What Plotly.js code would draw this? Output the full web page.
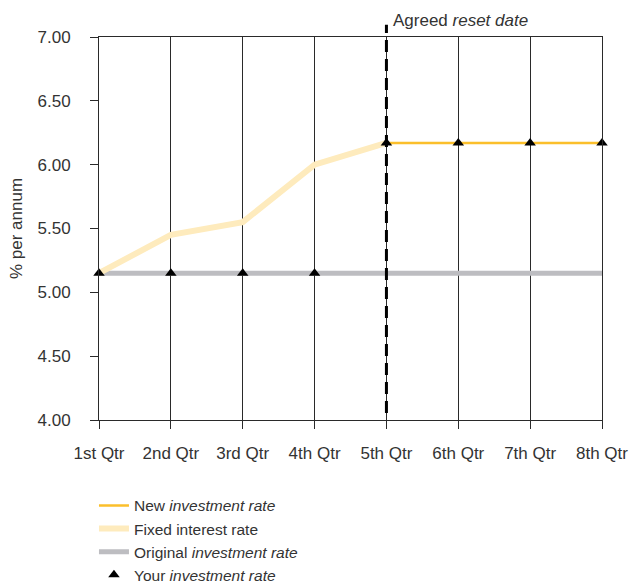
<!DOCTYPE html>
<html>
<head>
<meta charset="utf-8">
<script src="https://cdn.plot.ly/plotly-3.0.1.min.js"></script>
<style>html,body{margin:0;padding:0;background:#fff;}#chart{width:631px;height:584px;}</style>
</head>
<body>
<div id="chart"></div>
<script>
var quarters = ['1st Qtr', '2nd Qtr', '3rd Qtr', '4th Qtr', '5th Qtr', '6th Qtr', '7th Qtr', '8th Qtr'];
var fixedQuarters = ['1st Qtr', '2nd Qtr', '3rd Qtr', '4th Qtr', '5th Qtr'];
var fixedRate = [5.15, 5.45, 5.55, 6.00, 6.17];
var originalRate = [5.15, 5.15, 5.15, 5.15, 5.15, 5.15, 5.15, 5.15];
var newQuarters = ['5th Qtr', '6th Qtr', '7th Qtr', '8th Qtr'];
var newRate = [6.17, 6.17, 6.17, 6.17];
var yourRate = [5.15, 5.15, 5.15, 5.15, 6.17, 6.17, 6.17, 6.17];
var resetQuarter = '5th Qtr';
var yTicks = [4.0, 4.5, 5.0, 5.5, 6.0, 6.5, 7.0];

var FONT = 'Liberation Sans, Arial, sans-serif';
var TXT = '#333333';
var LINE = '#2a2a2a';

var traces = [
  {x: quarters, y: originalRate, type: 'scatter', mode: 'lines', name: 'Original <i>investment rate</i>',
   line: {color: '#bdbdc1', width: 5}, legendrank: 3},
  {x: fixedQuarters, y: fixedRate, type: 'scatter', mode: 'lines', name: 'Fixed interest rate',
   line: {color: '#feebbd', width: 6}, legendrank: 2},
  {x: newQuarters, y: newRate, type: 'scatter', mode: 'lines', name: 'New <i>investment rate</i>',
   line: {color: '#fbbf2b', width: 2.5}, legendrank: 1},
  {x: quarters, y: yourRate, type: 'scatter', mode: 'markers', name: 'Your <i>investment rate</i>',
   marker: {symbol: 'triangle-up', size: 10, color: '#000000'}, cliponaxis: false, legendrank: 4}
];

var layout = {
  width: 631, height: 584,
  margin: {l: 99, r: 29, t: 37, b: 164},
  paper_bgcolor: '#ffffff', plot_bgcolor: '#ffffff',
  font: {family: FONT, size: 17, color: TXT},
  showlegend: true,
  legend: {x: -0.01, xanchor: 'left', xref: 'paper', yref: 'container', y: 0.163, yanchor: 'top', orientation: 'v',
           font: {family: FONT, size: 15.5, color: TXT}, bgcolor: 'rgba(0,0,0,0)', traceorder: 'normal'},
  xaxis: {
    type: 'category', categoryarray: quarters, categoryorder: 'array',
    range: [0, 7], showgrid: true, gridcolor: LINE, gridwidth: 1,
    showline: true, linecolor: LINE, linewidth: 1, mirror: true,
    ticks: 'outside', ticklen: 8, tickcolor: LINE, tickwidth: 1,
    ticklabelstandoff: 10, tickfont: {family: FONT, size: 17, color: TXT},
    zeroline: false, fixedrange: true, automargin: false
  },
  yaxis: {
    range: [4, 7], tickvals: yTicks, tickformat: '.2f',
    showgrid: false, zeroline: false,
    showline: true, linecolor: LINE, linewidth: 1, mirror: true,
    ticks: 'outside', ticklen: 8, tickcolor: LINE, tickwidth: 1,
    ticklabelstandoff: 16, tickfont: {family: FONT, size: 17, color: TXT},
    title: {text: '% per annum', font: {family: FONT, size: 17, color: TXT}, standoff: 10},
    fixedrange: true, automargin: false
  },
  shapes: [
    {type: 'line', xref: 'x', yref: 'paper', x0: resetQuarter, x1: resetQuarter, y0: 0.018, y1: 1.032,
     line: {color: '#000000', width: 3, dash: '12px,7px'}, layer: 'above'}
  ],
  annotations: [
    {xref: 'x', yref: 'paper', x: resetQuarter, y: 1.042, xanchor: 'left', yanchor: 'middle', xshift: 5,
     text: 'Agreed <i>reset date</i>', showarrow: false, font: {family: FONT, size: 17, color: TXT}}
  ]
};

Plotly.newPlot('chart', traces, layout, {staticPlot: true, displayModeBar: false});
</script>
</body>
</html>
